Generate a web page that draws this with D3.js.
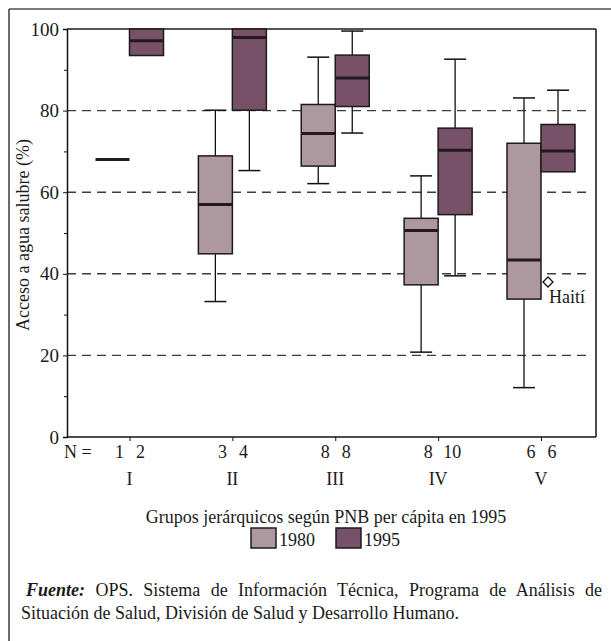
<!DOCTYPE html>
<html>
<head>
<meta charset="utf-8">
<script src="https://cdn.jsdelivr.net/npm/d3@7"></script>
<style>
  html, body { margin: 0; padding: 0; background: #fff; }
  svg { display: block; }
  text { font-family: "Liberation Serif", "Times New Roman", "DejaVu Serif", serif; fill: #1a1a1a; }
</style>
</head>
<body>
<svg id="chart" width="611" height="641"></svg>
<script>
// Access to safe water (%) by GNP per capita group, 1980 vs 1995
const groups = ["I", "II", "III", "IV", "V"];
const years = ["1980", "1995"];
const n1980 = [1, 3, 8, 8, 6];
const n1995 = [2, 4, 8, 10, 6];
// five-number summaries: [min, q1, median, q3, max]
const stats1980 = [
  [68, 68, 68, 68, 68],
  [33.2, 44.9, 57.0, 68.9, 80.1],
  [62.1, 66.4, 74.4, 81.5, 93.1],
  [20.8, 37.3, 50.6, 53.6, 64.0],
  [12.1, 33.8, 43.4, 72.0, 83.1]
];
const stats1995 = [
  [93.5, 93.5, 97.1, 100, 100],
  [65.3, 80.1, 97.9, 100, 100],
  [74.5, 81.0, 88.0, 93.6, 99.5],
  [39.5, 54.5, 70.3, 75.7, 92.6],
  [65.0, 65.0, 70.1, 76.6, 85.0]
];
const outliers = [{ group: "V", year: "1980", value: 38.0, label: "Haití" }];
const yTicks = [0, 20, 40, 60, 80, 100];
const yMinor = [10, 30, 50, 70, 90];
const gridValues = [20, 40, 60, 80];
const colors = { "1980": "#ae98a0", "1995": "#765167" };

const svg = d3.select("#chart");
const plotL = 67, plotR = 596, plotT = 29, plotB = 437;

const y = d3.scaleLinear().domain([0, 100]).range([plotB, plotT]);
const x = d3.scalePoint().domain(groups).range([129.5, 541]);
const boxW = 34, capW = 22;
const offset = d3.scaleOrdinal().domain(years).range([-boxW / 2, boxW / 2]);

// outer frame (top and left rules)
svg.append("line").attr("x1", 9).attr("x2", 611).attr("y1", 9).attr("y2", 9)
  .attr("stroke", "#7a7a7a").attr("stroke-width", 2);
svg.append("line").attr("x1", 9).attr("x2", 9).attr("y1", 9).attr("y2", 641)
  .attr("stroke", "#3a3a3a").attr("stroke-width", 1.5);

// dashed reference lines
svg.append("g").selectAll("line").data(gridValues).join("line")
  .attr("x1", plotL).attr("x2", plotR - 6)
  .attr("y1", d => y(d)).attr("y2", d => y(d))
  .attr("stroke", "#3c3c3c").attr("stroke-width", 1.4)
  .attr("stroke-dasharray", "9,6");

// plot borders
svg.append("line").attr("x1", plotL).attr("x2", plotR).attr("y1", plotT).attr("y2", plotT)
  .attr("stroke", "#555").attr("stroke-width", 2);
svg.append("line").attr("x1", plotR).attr("x2", plotR).attr("y1", plotT).attr("y2", plotB)
  .attr("stroke", "#111").attr("stroke-width", 1.5);

// y axis
const yAxis = svg.append("g").attr("transform", `translate(${plotL},0)`)
  .call(d3.axisLeft(y).tickValues(yTicks).tickSize(4).tickPadding(4).tickFormat(d3.format("d")));
yAxis.select(".domain").attr("stroke", "#111").attr("stroke-width", 1.5);
yAxis.selectAll(".tick line").attr("stroke", "#111");
yAxis.selectAll("text").attr("font-size", 19).attr("fill", "#1a1a1a");
svg.append("g").attr("transform", `translate(${plotL},0)`)
  .call(d3.axisLeft(y).tickValues(yMinor).tickSize(3).tickFormat(""))
  .call(g => g.select(".domain").remove())
  .selectAll(".tick line").attr("stroke", "#111");

// x axis
const xAxis = svg.append("g").attr("transform", `translate(0,${plotB})`)
  .call(d3.axisBottom(x).tickSize(4).tickFormat(""));
xAxis.select(".domain").attr("d", `M${plotL},0H${plotR}`).attr("stroke", "#111").attr("stroke-width", 1.5);
xAxis.selectAll(".tick line").attr("stroke", "#111");

// y title
svg.append("text")
  .attr("transform", `translate(29,${(plotT + plotB) / 2 + 2}) rotate(-90)`)
  .attr("text-anchor", "middle").attr("font-size", 18)
  .text("Acceso a agua salubre (%)");

// boxes
const boxData = [];
groups.forEach((g, i) => {
  boxData.push({ group: g, year: "1980", s: stats1980[i], n: n1980[i] });
  boxData.push({ group: g, year: "1995", s: stats1995[i], n: n1995[i] });
});

const boxes = svg.append("g").selectAll("g").data(boxData).join("g")
  .attr("transform", d => `translate(${x(d.group) + offset(d.year)},0)`);

boxes.each(function (d) {
  const g = d3.select(this);
  const [mn, q1, md, q3, mx] = d.s;
  if (d.n >= 2) {
    if (mx > q3) {
      g.append("line").attr("x1", 0).attr("x2", 0).attr("y1", y(mx)).attr("y2", y(q3))
        .attr("stroke", "#111").attr("stroke-width", 1.3);
      g.append("line").attr("x1", -capW / 2).attr("x2", capW / 2).attr("y1", y(mx)).attr("y2", y(mx))
        .attr("stroke", "#111").attr("stroke-width", 1.5);
    }
    if (mn < q1) {
      g.append("line").attr("x1", 0).attr("x2", 0).attr("y1", y(q1)).attr("y2", y(mn))
        .attr("stroke", "#111").attr("stroke-width", 1.3);
      g.append("line").attr("x1", -capW / 2).attr("x2", capW / 2).attr("y1", y(mn)).attr("y2", y(mn))
        .attr("stroke", "#111").attr("stroke-width", 1.5);
    }
    if (q3 > q1) {
      g.append("rect").attr("x", -boxW / 2).attr("width", boxW)
        .attr("y", y(q3)).attr("height", y(q1) - y(q3))
        .attr("fill", colors[d.year]).attr("stroke", "#1e1a1c").attr("stroke-width", 1.5);
    }
  }
  g.append("line").attr("x1", -boxW / 2).attr("x2", boxW / 2).attr("y1", y(md)).attr("y2", y(md))
    .attr("stroke", "#221a1e").attr("stroke-width", 3);
});

// outliers
const out = svg.append("g").selectAll("g").data(outliers).join("g")
  .attr("transform", d => `translate(${x(d.group) + 7},${y(d.value)})`);
out.append("path").attr("d", d3.symbol(d3.symbolDiamond2, 64))
  .attr("fill", "#fff").attr("stroke", "#111").attr("stroke-width", 1.3);
out.append("text").attr("x", 1).attr("y", 21).attr("font-size", 18).text(d => d.label);

// N counts and group labels
svg.append("text").attr("x", 64).attr("y", 458).attr("font-size", 18).text("N =");
const nLab = svg.append("g").selectAll("g").data(groups).join("g")
  .attr("transform", g => `translate(${x(g)},0)`);
nLab.append("text").attr("x", -10).attr("y", 458).attr("text-anchor", "middle").attr("font-size", 18)
  .text((g, i) => n1980[i]);
nLab.append("text").attr("x", (g, i) => n1995[i] >= 10 ? 14 : 11).attr("y", 458).attr("text-anchor", "middle")
  .attr("font-size", 18).text((g, i) => n1995[i]);
nLab.append("text").attr("x", 0).attr("y", 485).attr("text-anchor", "middle").attr("font-size", 18)
  .text(g => g);

// x title
svg.append("text").attr("x", 326).attr("y", 523).attr("text-anchor", "middle").attr("font-size", 18)
  .text("Grupos jerárquicos según PNB per cápita en 1995");

// legend
const legend = svg.append("g").selectAll("g").data(years).join("g")
  .attr("transform", (d, i) => `translate(${251 + i * 85},528)`);
legend.append("rect").attr("width", 25).attr("height", 20)
  .attr("fill", d => colors[d]).attr("stroke", "#1e1a1c").attr("stroke-width", 1.5);
legend.append("text").attr("x", 28).attr("y", 18).attr("font-size", 18).text(d => d);

// source note, first line justified to the right margin
const line1 = svg.append("text").attr("x", 26).attr("y", 596).attr("font-size", 18);
line1.append("tspan").attr("font-weight", "bold").attr("font-style", "italic").text("Fuente:");
line1.append("tspan").text(" OPS. Sistema de Información Técnica, Programa de Análisis de");
const w = line1.node().getComputedTextLength();
const gaps = 9;
line1.attr("word-spacing", (602 - 26 - w) / gaps);
svg.append("text").attr("x", 21).attr("y", 619).attr("font-size", 18)
  .text("Situación de Salud, División de Salud y Desarrollo Humano.");
</script>
</body>
</html>
